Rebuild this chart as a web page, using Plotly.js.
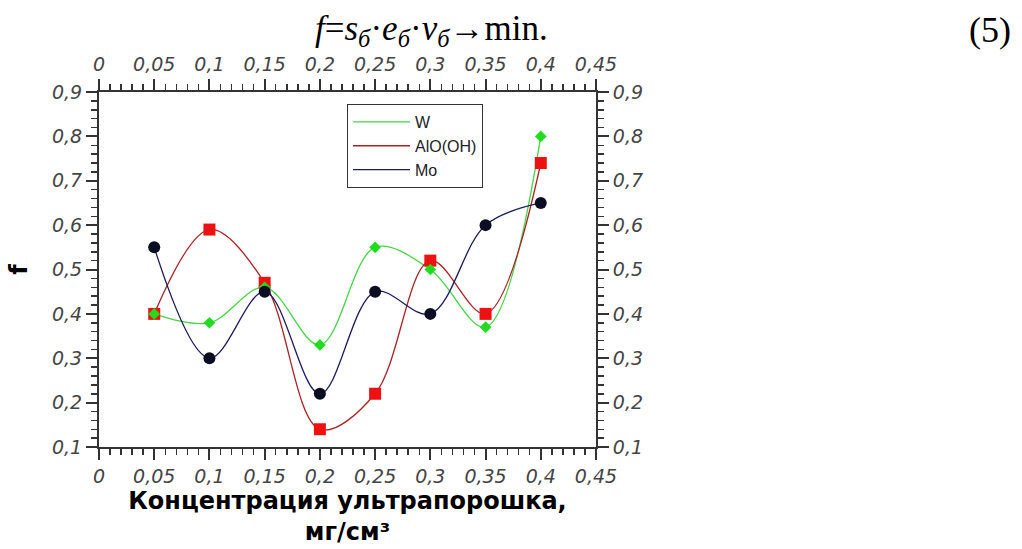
<!DOCTYPE html>
<html>
<head>
<meta charset="utf-8">
<script src="https://cdn.plot.ly/plotly-3.0.1.min.js"></script>
<style>html,body{margin:0;padding:0;background:#fff;}#chart{width:1022px;height:549px;}</style>
</head>
<body>
<div id="chart"></div>
<script>
const concentration = [0.05, 0.10, 0.15, 0.20, 0.25, 0.30, 0.35, 0.40];
const seriesW = [0.40, 0.38, 0.46, 0.33, 0.55, 0.50, 0.37, 0.80];
const seriesAlOOH = [0.40, 0.59, 0.47, 0.14, 0.22, 0.52, 0.40, 0.74];
const seriesMo = [0.55, 0.30, 0.45, 0.22, 0.45, 0.40, 0.60, 0.65];
const seriesNames = ['W', 'AlO(OH)', 'Mo'];
const xTitle = 'Концентрация ультрапорошка,<br>мг/см³';
const yTitle = 'f';

const lineColors = ['#44d444', '#a82424', '#1c1c5e'];
const markerColors = ['#1fdc1f', '#ee1111', '#0c0c22'];
const markerSymbols = ['diamond', 'square', 'circle'];
const markerSizes = [9, 12, 12];
const allSeries = [seriesW, seriesAlOOH, seriesMo];

const traces = [];
allSeries.forEach((ys, i) => {
  traces.push({
    x: concentration, y: ys, name: seriesNames[i], type: 'scatter', mode: 'lines',
    line: {shape: 'spline', smoothing: 1.0, color: lineColors[i], width: 1.3},
    hoverinfo: 'skip'
  });
});
[1, 0, 2].forEach(i => {
  traces.push({
    x: concentration, y: allSeries[i], name: seriesNames[i], type: 'scatter', mode: 'markers',
    showlegend: false,
    marker: {symbol: markerSymbols[i], size: markerSizes[i], color: markerColors[i], line: {width: 0}}
  });
});
traces.push({x: concentration, y: seriesMo, xaxis: 'x2', yaxis: 'y2', mode: 'markers',
  marker: {opacity: 0}, showlegend: false, hoverinfo: 'skip'});

const tickFont = {family: 'DejaVu Sans', size: 19, color: '#444', style: 'italic'};
const axisCommon = {
  showgrid: false, zeroline: false, showline: true, linecolor: '#333', linewidth: 2,
  ticks: 'outside', ticklen: 11, tickwidth: 2, tickcolor: '#333', tickfont: tickFont
};
const xBase = Object.assign({}, axisCommon, {
  range: [0, 0.45], dtick: 0.05, tick0: 0,
  minor: {dtick: 0.01, ticks: 'outside', ticklen: 6, tickwidth: 1.5, tickcolor: '#333', showgrid: false}
});
const yBase = Object.assign({}, axisCommon, {
  range: [0.1, 0.9], dtick: 0.1, tick0: 0.1,
  minor: {dtick: 0.02, ticks: 'outside', ticklen: 6, tickwidth: 1.5, tickcolor: '#333', showgrid: false}
});

const layout = {
  width: 1022, height: 549,
  margin: {l: 99, r: 426, t: 92, b: 102},
  paper_bgcolor: '#fff', plot_bgcolor: '#fff',
  separators: ', ',
  showlegend: true,
  legend: {
    x: 0.499, y: 0.966, xanchor: 'left', yanchor: 'top',
    bordercolor: '#333', borderwidth: 1, bgcolor: '#fff',
    font: {family: 'Liberation Sans', size: 16, color: '#222'},
    itemwidth: 57, tracegroupgap: 0
  },
  xaxis: Object.assign({}, xBase, {
    title: {text: xTitle, font: {family: 'DejaVu Sans', size: 24, color: '#000', weight: 'bold'}, standoff: 6}
  }),
  xaxis2: Object.assign({}, xBase, {overlaying: 'x', side: 'top', anchor: 'y'}),
  yaxis: Object.assign({}, yBase, {
    title: {text: yTitle, font: {family: 'DejaVu Sans', size: 24, color: '#000', weight: 'bold'}, standoff: 18}
  }),
  yaxis2: Object.assign({}, yBase, {overlaying: 'y', side: 'right', anchor: 'x'}),
  annotations: [
    {text: '<i>f</i>=<i>s</i><sub><i>б</i></sub>·<i>e</i><sub><i>б</i></sub>·<i>v</i><sub><i>б</i></sub>→min.',
     xref: 'paper', yref: 'paper', x: 0.669, y: 1.172, xanchor: 'center', yanchor: 'middle',
     showarrow: false, font: {family: 'Liberation Serif', size: 35, color: '#000'}},
    {text: '(5)', xref: 'paper', yref: 'paper', x: 1.793, y: 1.175, xanchor: 'center', yanchor: 'middle',
     showarrow: false, font: {family: 'Liberation Serif', size: 36, color: '#000'}}
  ]
};

Plotly.newPlot('chart', traces, layout, {staticPlot: true, displayModeBar: false});
</script>
</body>
</html>
